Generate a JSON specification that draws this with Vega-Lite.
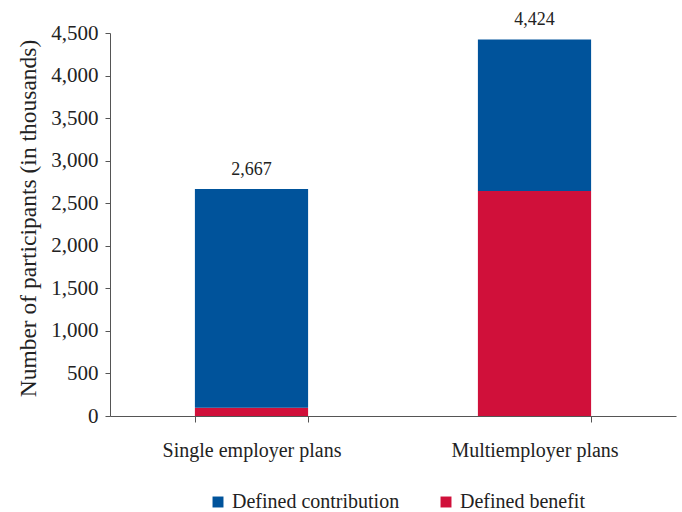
{
  "$schema": "https://vega.github.io/schema/vega-lite/v6.json",
  "width": 566,
  "height": 383,
  "autosize": {"type": "none"},
  "padding": {"left": 110, "top": 33, "right": 6, "bottom": 96},
  "background": "white",
  "config": {
    "view": {"stroke": null},
    "font": "Liberation Serif",
    "text": {"font": "Liberation Serif"},
    "legend": {"labelFont": "Liberation Serif"},
    "axis": {"labelFont": "Liberation Serif", "titleFont": "Liberation Serif", "labelColor": "#222", "titleColor": "#222", "domainColor": "#555", "tickColor": "#555", "grid": false}
  },
  "data": {
    "values": [
      {"plan": "Single employer plans", "type": "Defined benefit", "ord": 1, "value": 98},
      {"plan": "Single employer plans", "type": "Defined contribution", "ord": 2, "value": 2569},
      {"plan": "Multiemployer plans", "type": "Defined benefit", "ord": 1, "value": 2644},
      {"plan": "Multiemployer plans", "type": "Defined contribution", "ord": 2, "value": 1780}
    ]
  },
  "layer": [
    {
      "mark": {"type": "bar"},
      "encoding": {
        "x": {
          "field": "plan", "type": "nominal", "sort": ["Single employer plans", "Multiemployer plans"],
          "scale": {"paddingInner": 0.6, "paddingOuter": 0.3},
          "axis": {"title": null, "labelAngle": 0, "labelFontSize": 20, "labelPadding": 18, "tickBand": "extent", "tickSize": 6, "domainWidth": 1.2}
        },
        "y": {
          "field": "value", "type": "quantitative", "stack": "zero",
          "scale": {"domain": [0, 4500]},
          "axis": {"title": "Number of participants (in thousands)", "titleFontSize": 23.5, "titleFontWeight": "normal", "titlePadding": 10, "titleY": 185, "labelFontSize": 21, "values": [0, 500, 1000, 1500, 2000, 2500, 3000, 3500, 4000, 4500], "format": ",.0f", "tickSize": 5, "labelPadding": 7}
        },
        "color": {
          "field": "type", "type": "nominal",
          "scale": {"domain": ["Defined contribution", "Defined benefit"], "range": ["#00539B", "#D0103A"]},
          "legend": {"title": null, "orient": "none", "legendX": 98, "legendY": 459, "direction": "horizontal", "symbolType": "square", "symbolSize": 120, "symbolStrokeWidth": 0, "labelFontSize": 20, "labelLimit": 300, "labelColor": "#222", "columnPadding": 36, "labelOffset": 4}
        },
        "order": {"field": "ord", "type": "quantitative"}
      }
    },
    {
      "mark": {"type": "text", "fontSize": 18, "color": "#222", "dy": -19},
      "transform": [{"aggregate": [{"op": "sum", "field": "value", "as": "total"}], "groupby": ["plan"]}],
      "encoding": {
        "x": {"field": "plan", "type": "nominal", "sort": ["Single employer plans", "Multiemployer plans"]},
        "y": {"field": "total", "type": "quantitative"},
        "text": {"field": "total", "type": "quantitative", "format": ","}
      }
    }
  ]
}
